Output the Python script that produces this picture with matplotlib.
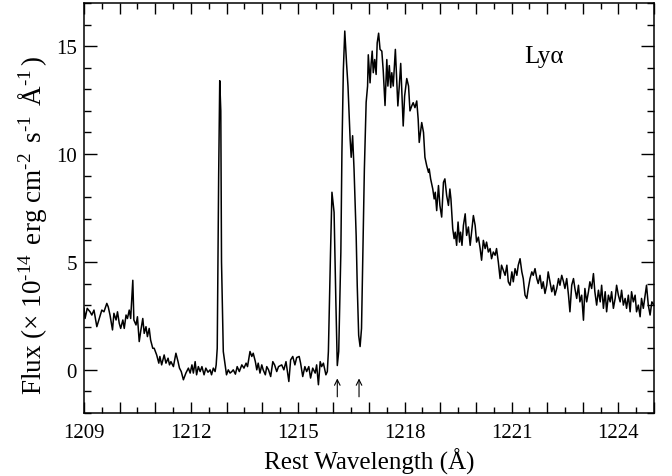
import matplotlib
matplotlib.use("Agg")
import matplotlib.pyplot as plt
from matplotlib.ticker import MultipleLocator, FuncFormatter
import numpy as np

plt.rcParams['font.family'] = ['Liberation Serif', 'DejaVu Serif']
plt.rcParams['mathtext.fontset'] = 'custom'
plt.rcParams['mathtext.rm'] = 'Liberation Serif'
plt.rcParams['mathtext.it'] = 'Liberation Serif:italic'
plt.rcParams['mathtext.bf'] = 'Liberation Serif:bold'

# ---- data (rest wavelength in Angstrom, flux in 1e-14 erg/cm2/s/A) ----
wave_blue = [1209.00, 1209.03, 1209.09, 1209.17, 1209.22, 1209.28, 1209.36, 1209.43, 1209.50, 1209.56,
             1209.64, 1209.68, 1209.73, 1209.80, 1209.84, 1209.90, 1209.94, 1209.99, 1210.03, 1210.09,
             1210.13, 1210.18, 1210.22, 1210.27, 1210.31, 1210.37, 1210.40, 1210.46, 1210.50, 1210.55,
             1210.59, 1210.65, 1210.69, 1210.74, 1210.78, 1210.83, 1210.87, 1210.93, 1210.97, 1211.04,
             1211.10, 1211.13, 1211.18, 1211.25, 1211.30, 1211.36, 1211.40, 1211.44, 1211.51, 1211.58,
             1211.64, 1211.68, 1211.73, 1211.79, 1211.86, 1211.93, 1211.98, 1212.03, 1212.07, 1212.12,
             1212.16, 1212.21, 1212.26, 1212.31, 1212.37, 1212.42, 1212.48, 1212.54, 1212.58, 1212.63,
             1212.68, 1212.71, 1212.74, 1212.78, 1212.81, 1212.84, 1212.86, 1212.91, 1212.96, 1213.00,
             1213.05, 1213.10, 1213.15, 1213.19, 1213.25, 1213.30, 1213.36, 1213.43, 1213.49, 1213.55,
             1213.59, 1213.66, 1213.71, 1213.75, 1213.81, 1213.85, 1213.89, 1213.94, 1213.99, 1214.03,
             1214.09, 1214.13, 1214.18, 1214.24, 1214.30, 1214.35, 1214.41, 1214.46, 1214.55, 1214.61,
             1214.67, 1214.75, 1214.80, 1214.86, 1214.92, 1214.97, 1215.04, 1215.08, 1215.14, 1215.20,
             1215.25, 1215.31, 1215.36, 1215.42, 1215.49, 1215.53, 1215.58, 1215.63, 1215.67, 1215.72,
             1215.79, 1215.83]
flux_blue = [2.85, 2.38, 2.85, 2.69, 2.54, 2.77, 2.0, 2.38, 2.77, 2.69,
             3.08, 2.92, 2.54, 1.85, 2.62, 2.31, 2.69, 2.15, 1.92, 2.31,
             1.92, 2.54, 2.38, 2.77, 2.38, 4.15, 2.31, 2.08, 2.46, 1.31,
             1.77, 2.38, 1.69, 2.0, 1.54, 1.92, 1.38, 1.0, 1.0, 0.69,
             0.31, 0.62, 0.23, 0.69, 0.31, 0.54, 0.23, 0.38, 0.15, 0.77,
             0.38, 0.08, -0.08, -0.46, -0.15, 0.08, -0.15, 0.23, -0.15, 0.38,
             -0.23, 0.15, -0.08, 0.15, -0.23, 0.08, -0.11, 0.0, -0.23, 0.08,
             -0.08, 0.23, 1.0, 9.0, 13.4, 12.0, 5.0, 0.85, 0.23, -0.23,
             0.0, -0.15, -0.08, 0.0, -0.2, 0.15, -0.08, 0.23, 0.08, 0.31,
             0.15, 0.85, 0.62, 0.77, 0.38, 0.0, 0.31, -0.15, 0.23, 0.0,
             -0.23, 0.15, 0.0, -0.31, 0.38, 0.23, -0.08, 0.15, 0.23, 0.0,
             0.38, -0.54, 0.46, 0.62, 0.23, 0.57, 0.62, 0.31, -0.31, 0.15,
             -0.08, 0.15, -0.38, 0.08, -0.15, 0.23, -0.69, 0.38, 0.15, 0.31,
             -0.23, -0.08]

wave_core = [1215.86, 1215.92, 1215.96, 1216.02, 1216.07, 1216.11, 1216.15, 1216.21, 1216.24, 1216.28,
             1216.32, 1216.37, 1216.41, 1216.47, 1216.50, 1216.54, 1216.58, 1216.64, 1216.67, 1216.71,
             1216.75, 1216.79, 1216.82, 1216.87, 1216.92, 1216.96, 1216.98, 1217.03, 1217.06, 1217.09,
             1217.12, 1217.16, 1217.20, 1217.23, 1217.27, 1217.31, 1217.36, 1217.40, 1217.45, 1217.50,
             1217.53, 1217.57, 1217.61, 1217.64, 1217.68, 1217.74, 1217.78, 1217.81, 1217.85, 1217.89,
             1217.93, 1217.96, 1218.00, 1218.06, 1218.11, 1218.15, 1218.20, 1218.24, 1218.29, 1218.34,
             1218.38, 1218.41]
flux_core = [0.85, 5.46, 8.23, 7.3, 3.15, 0.2, 0.85, 5.46, 10.1, 13.9,
             15.7, 14.2, 13.15, 10.7, 9.85, 10.85, 9.3, 6.2, 3.9, 1.6,
             1.08, 1.92, 4.7, 9.3, 12.4, 13.15, 14.6, 13.3, 14.2, 14.77,
             13.77, 14.38, 13.69, 15.15, 15.6, 14.85, 14.77, 13.85, 12.25, 14.38,
             13.15, 14.1, 13.08, 13.77, 13.15, 14.85, 13.31, 12.23, 13.15, 14.2,
             12.54, 11.3, 12.69, 13.5, 13.15, 12.0, 12.23, 12.38, 12.15, 12.46,
             11.62, 10.54]

wave_red = [1218.48, 1218.53, 1218.57, 1218.62, 1218.67, 1218.69, 1218.73, 1218.79, 1218.83, 1218.86,
            1218.90, 1218.95, 1218.99, 1219.04, 1219.09, 1219.13, 1219.18, 1219.23, 1219.27, 1219.30,
            1219.35, 1219.39, 1219.42, 1219.46, 1219.50, 1219.54, 1219.57, 1219.61, 1219.65, 1219.70,
            1219.74, 1219.79, 1219.84, 1219.88, 1219.93, 1219.98,
            1220.02, 1220.07, 1220.12, 1220.16, 1220.21, 1220.26, 1220.30, 1220.35, 1220.40, 1220.44,
            1220.49, 1220.54, 1220.58, 1220.63, 1220.68, 1220.72, 1220.77, 1220.82, 1220.87, 1220.91,
            1220.96, 1221.01, 1221.05, 1221.10, 1221.15, 1221.19, 1221.24, 1221.29, 1221.33, 1221.38,
            1221.43, 1221.47, 1221.52, 1221.57, 1221.61, 1221.66, 1221.71, 1221.75, 1221.80, 1221.85,
            1221.89, 1221.94, 1221.99, 1222.03, 1222.08, 1222.13, 1222.18, 1222.22, 1222.27, 1222.32,
            1222.36, 1222.41, 1222.46, 1222.50, 1222.55, 1222.60, 1222.64, 1222.69, 1222.74, 1222.78,
            1222.83, 1222.88, 1222.92, 1222.97, 1223.02, 1223.06, 1223.11, 1223.16, 1223.20, 1223.25,
            1223.30, 1223.34, 1223.39, 1223.44, 1223.49, 1223.53, 1223.58, 1223.63, 1223.67, 1223.72,
            1223.77, 1223.81, 1223.86, 1223.91, 1223.95, 1224.00, 1224.05, 1224.09, 1224.14, 1224.19,
            1224.23, 1224.28, 1224.33, 1224.37, 1224.42, 1224.47, 1224.51, 1224.56, 1224.61, 1224.65,
            1224.70, 1224.75, 1224.79, 1224.84, 1224.89, 1224.94, 1225.00]
flux_red = [11.46, 11.0, 9.85, 9.46, 9.15, 9.31, 8.85, 8.38, 7.92, 8.23,
            7.38, 8.54, 7.62, 7.08, 8.69, 8.85, 8.08, 7.62, 8.38, 7.92,
            6.54, 6.08, 6.38, 5.77, 6.85, 5.92, 6.38, 5.77, 6.69, 7.23,
            6.23, 6.62, 5.77, 6.38, 7.15, 6.69,
            5.92, 6.15, 5.62, 5.08, 6.0, 5.62, 5.92, 5.46, 5.62, 5.15,
            5.46, 5.31, 5.62, 5.0, 4.23, 4.85, 4.62, 4.38, 4.85, 4.08,
            3.92, 4.54, 4.08, 4.69, 4.38, 4.85, 5.15, 4.54, 4.23, 3.46,
            3.31, 3.77, 4.23, 4.54, 4.38, 4.69, 4.23, 4.0, 4.38, 3.77,
            4.08, 3.54, 3.92, 4.54, 4.08, 3.62, 3.92, 3.46, 3.77, 4.23,
            3.92, 4.38, 4.08, 3.77, 4.23, 3.46, 2.69, 3.92, 4.23, 3.77,
            3.31, 3.92, 3.15, 3.46, 2.3, 3.77, 3.15, 3.62, 4.08, 3.77,
            4.46, 3.62, 3.0, 3.69, 3.15, 3.92, 2.85, 3.62, 2.69, 3.46,
            3.15, 3.62, 2.85, 3.31, 3.92, 3.46, 3.15, 3.69, 3.0, 3.31,
            2.85, 3.46, 2.69, 3.62, 3.15, 3.46, 2.69, 3.0, 2.46, 3.31,
            2.85, 3.46, 3.92, 3.0, 2.54, 3.15, 3.0]

arrow_x = [1216.11, 1216.72]
arrow_y = [-1.25, -0.4]
x_tick_labels = [1209, 1212, 1215, 1218, 1221, 1224]
y_tick_labels = [0, 5, 10, 15]

wave = np.array(wave_blue + wave_core + wave_red)
flux = np.array(flux_blue + flux_core + flux_red)

fig = plt.figure(figsize=(6.72, 4.77), dpi=100)
ax = fig.add_axes([84/672, 63/477, 570/672, 410/477])

ax.plot(wave, flux, color='black', lw=1.1)

for xa in arrow_x:
    ax.annotate('', xy=(xa, arrow_y[1]), xytext=(xa, arrow_y[0]),
                arrowprops=dict(arrowstyle='->', lw=0.8, color='black',
                                shrinkA=0, shrinkB=0, mutation_scale=10))

ax.text(1221.9, 14.55, 'Lyα', fontsize=18, ha='center', va='center')

ax.set_xlim(1209, 1225)
ax.set_ylim(-2, 17)

ax.xaxis.set_major_locator(MultipleLocator(1))
ax.xaxis.set_minor_locator(MultipleLocator(0.5))
ax.xaxis.set_major_formatter(FuncFormatter(
    lambda v, p: f"{int(round(v))}" if int(round(v)) in x_tick_labels else ""))
ax.set_yticks(y_tick_labels)
ax.yaxis.set_minor_locator(MultipleLocator(1))

ax.tick_params(which='both', direction='in', top=True, right=True, width=1.0,
               labelsize=15, colors='black')
ax.tick_params(axis='x', which='major', length=8, pad=7)
ax.tick_params(axis='x', which='minor', length=4.5)
ax.tick_params(axis='y', which='major', length=9.5, pad=5)
ax.tick_params(axis='y', which='minor', length=5)
for s in ax.spines.values():
    s.set_linewidth(1.1)

ax.set_xlabel('Rest Wavelength (Å)', fontsize=18, labelpad=4)
ax.set_ylabel('Flux ($\\times$ 10$^{\u201014}$ erg cm$^{\u20102}$ s$^{\u20101}$ '
              '$\\mathrm{\\AA}^{\u20101}$)', fontsize=18)
ax.yaxis.label.set_text('Flux ($\\times$ 10$^{\u201014}$$\\,$ erg cm$^{\u20102}$$\\,$ '
                        's$^{\u20101}$$\\,$ $\\mathrm{\\AA}^{\u20101}$$\\,$)')
ax.yaxis.label.set_fontsize(19.5)
ax.yaxis.set_label_coords(-0.062, 0.46)

fig.savefig('out.png', dpi=100)
